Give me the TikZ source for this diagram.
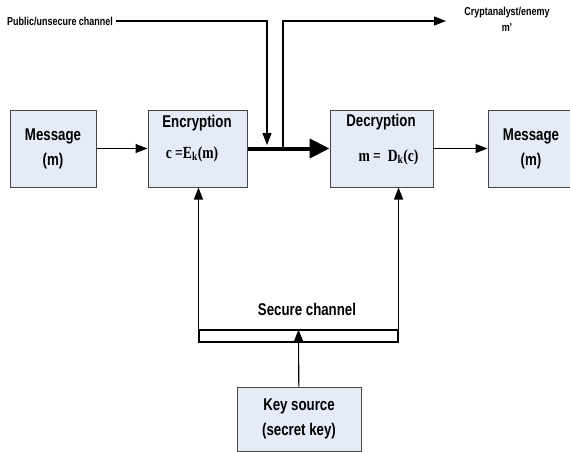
\documentclass[tikz,border=0pt]{standalone}
\usepackage{fontspec}
\setmainfont{Liberation Sans}[FakeStretch=0.78]
\newfontfamily\formfont{Liberation Serif}[FakeStretch=0.8]
\usepackage{xcolor}
\usepackage{tikz}
\usetikzlibrary{arrows.meta,positioning}
\definecolor{boxfill}{RGB}{229,236,247}
\definecolor{boxline}{RGB}{70,70,70}

\begin{document}
\begin{tikzpicture}[x=1pt, y=-1pt,
      block/.style={rectangle, draw=boxline, fill=boxfill, line width=1pt, minimum height=77pt, inner sep=0pt},
      big/.style={font=\fontsize{17}{25}\selectfont\bfseries, align=center, inner sep=0pt},
      small/.style={font=\fontsize{11.5}{14}\selectfont\bfseries, inner sep=0pt},
      form/.style={font=\fontsize{17}{20}\selectfont\formfont\bfseries, inner sep=0pt},
      arr/.style={-{Triangle[length=12pt, width=9pt]}, line width=1.1pt},
      fatarr/.style={-{Triangle[length=20pt, width=19pt]}, line width=4pt},
      pipe/.style={draw, line width=1.1pt, minimum width=199pt, minimum height=12pt, inner sep=0pt}
    ]
      \useasboundingbox (0,0) rectangle (570,452);
      % blocks along the message path
      \node[block, big, minimum width=86pt] (msgL) at (53,148.5) {Message\\(m)};
      \node[block, minimum width=99pt] (enc) at (197.5,148.5) {};
      \node[big] (encname) at (197,123) {Encryption};
      \node[form] (encrule) at (192,154) {c =E\textsubscript{k}(m)};
      \node[block, minimum width=103pt] (dec) at (381.5,148.5) {};
      \node[big] (decname) at (381,122) {Decryption};
      \node[form] (decrule) at (388.5,157) {m =\ \ D\textsubscript{k}(c)};
      \node[block, big, minimum width=86pt] (msgR) at (531,148.5) {Message\\(m)};
      \draw[arr] (msgL) -- (enc);
      \draw[fatarr] (enc) -- (dec);
      \draw[arr] (dec) -- (msgR);
      % public channel and eavesdropper
      \node[small, anchor=west] (pub) at (7,21) {Public/unsecure channel};
      \node[small] (spy) at (507,13) {Cryptanalyst/enemy};
      \node[small, below=5pt of spy] (spym) {m'};
      \coordinate (tapin) at (267,145);
      \coordinate (tapout) at (283,149);
      \draw[arr] ([xshift=3pt]pub.east) -| (tapin);
      \draw[arr] (tapout) |- (446,21) coordinate (spyend);
      % key distribution
      \node[block, big, minimum width=124pt, minimum height=64pt] (key) at (299,419) {Key source\\(secret key)};
      \node[pipe] (bar) at (298.5,336) {};
      \node[big] (secure) at (307,309) {Secure channel};
      \draw[arr] (key) -- (bar.north);
      \draw[arr] (bar.north west) -- (bar.north west |- enc.south);
      \draw[arr] (bar.north east) -- (bar.north east |- dec.south);
    \end{tikzpicture}
\end{document}
